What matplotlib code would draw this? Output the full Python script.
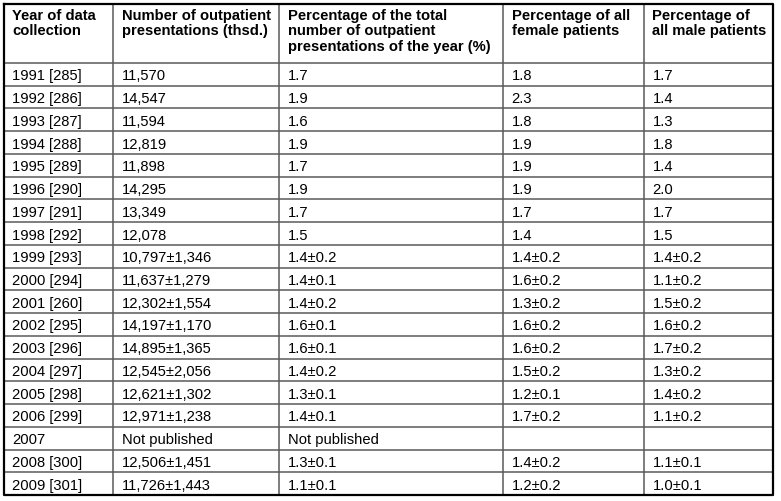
import numpy as np
import matplotlib.pyplot as plt

plt.rcParams['font.family'] = ['Liberation Sans', 'DejaVu Sans']

# table content
headers = ['Year of data\ncollection',
           'Number of outpatient\npresentations (thsd.)',
           'Percentage of the total\nnumber of outpatient\npresentations of the year (%)',
           'Percentage of all\nfemale patients',
           'Percentage of\nall male patients']

years = ['1991 [285]', '1992 [286]', '1993 [287]', '1994 [288]', '1995 [289]',
         '1996 [290]', '1997 [291]', '1998 [292]', '1999 [293]', '2000 [294]',
         '2001 [260]', '2002 [295]', '2003 [296]', '2004 [297]', '2005 [298]',
         '2006 [299]', '2007', '2008 [300]', '2009 [301]']
presentations = ['11,570', '14,547', '11,594', '12,819', '11,898', '14,295', '13,349',
                 '12,078', '10,797±1,346', '11,637±1,279', '12,302±1,554',
                 '14,197±1,170', '14,895±1,365', '12,545±2,056', '12,621±1,302',
                 '12,971±1,238', 'Not published', '12,506±1,451', '11,726±1,443']
pct_total = ['1.7', '1.9', '1.6', '1.9', '1.7', '1.9', '1.7', '1.5', '1.4±0.2',
             '1.4±0.1', '1.4±0.2', '1.6±0.1', '1.6±0.1', '1.4±0.2', '1.3±0.1',
             '1.4±0.1', 'Not published', '1.3±0.1', '1.1±0.1']
pct_female = ['1.8', '2.3', '1.8', '1.9', '1.9', '1.9', '1.7', '1.4', '1.4±0.2',
              '1.6±0.2', '1.3±0.2', '1.6±0.2', '1.6±0.2', '1.5±0.2', '1.2±0.1',
              '1.7±0.2', '', '1.4±0.2', '1.2±0.2']
pct_male = ['1.7', '1.4', '1.3', '1.8', '1.4', '2.0', '1.7', '1.5', '1.4±0.2',
            '1.1±0.2', '1.5±0.2', '1.6±0.2', '1.7±0.2', '1.3±0.2', '1.4±0.2',
            '1.1±0.2', '', '1.1±0.1', '1.0±0.1']

columns = [years, presentations, pct_total, pct_female, pct_male]

# layout in pixels
W, H = 781, 501
col_edges = [4, 113, 279, 503, 644, 773]
top, header_bottom, bottom = 4, 63, 495
n_rows = len(years)
row_edges = np.linspace(header_bottom, bottom, n_rows + 1)
pad = 8.5
fs = 10.6

fig = plt.figure(figsize=(W / 100, H / 100), dpi=100)
ax = fig.add_axes([0, 0, 1, 1])
ax.set_xlim(0, W)
ax.set_ylim(H, 0)
ax.axis('off')

# inner grid lines
inner = '#5a5a5a'
for y in row_edges[:-1]:
    ax.plot([col_edges[0], col_edges[-1]], [y, y], color=inner, lw=1.1)
for x in col_edges[1:-1]:
    ax.plot([x, x], [top, bottom], color=inner, lw=1.1)
# outer border
ax.plot([col_edges[0], col_edges[-1], col_edges[-1], col_edges[0], col_edges[0]],
        [top, top, bottom, bottom, top], color='black', lw=1.6)

# header
for j, h in enumerate(headers):
    ax.text(col_edges[j] + pad, top + 4.5, h, fontsize=fs, fontweight='bold',
            ha='left', va='top', linespacing=1.15)

# body
for j, col in enumerate(columns):
    for i, val in enumerate(col):
        yc = (row_edges[i] + row_edges[i + 1]) / 2
        ax.text(col_edges[j] + pad, yc + 0.5, val, fontsize=fs,
                ha='left', va='center_baseline')

fig.savefig('out.png', dpi=100, facecolor='white')
